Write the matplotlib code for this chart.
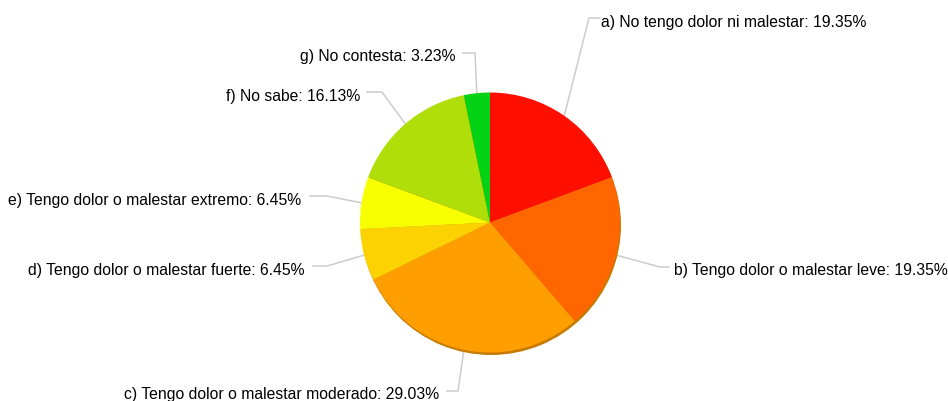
import matplotlib
matplotlib.use("Agg")
import matplotlib.pyplot as plt
import numpy as np

labels = ["a) No tengo dolor ni malestar", "b) Tengo dolor o malestar leve",
          "c) Tengo dolor o malestar moderado", "d) Tengo dolor o malestar fuerte",
          "e) Tengo dolor o malestar extremo", "f) No sabe", "g) No contesta"]
values = [19.35, 19.35, 29.03, 6.45, 6.45, 16.13, 3.23]
colors = ["#FF0F00", "#FF6600", "#FF9E01", "#FCD202", "#F8FF01", "#B0DE09", "#04D215"]

W, H = 948, 401
fig = plt.figure(figsize=(W / 100, H / 100), dpi=100)
ax = fig.add_axes([0, 0, 1, 1])

cx, cy, r = 490, H - 222.5, 130
# shadow
ax.pie([1], colors=["#C77A00"], radius=r, center=(cx + 1, cy - 2.5),
       wedgeprops=dict(linewidth=0), frame=True)
ax.pie(values, colors=colors, radius=r, center=(cx, cy), startangle=90,
       counterclock=False, wedgeprops=dict(linewidth=0), frame=True)
ax.set_xlim(0, W)
ax.set_ylim(0, H)
ax.set_aspect("equal")
ax.axis("off")

# label layout: (knee x, line y (px from top), line end x, text x, ha)
layout = [
    (589, 18, 600, 601, "left"),
    (660, 267, 669, 674, "left"),
    (458, 391, 447, 439, "right"),
    (327, 266, 313, 305, "right"),
    (327, 196, 310, 301, "right"),
    (382, 92, 367, 360, "right"),
    (475, 53, 463, 456, "right"),
]
cum = np.cumsum([0] + values[:-1])
tot = sum(values)
for lab, v, c0, (kx, ky, ex, tx, ha) in zip(labels, values, cum, layout):
    mid = (c0 + v / 2) / tot * 2 * np.pi
    sx = cx + r * np.sin(mid)
    sy = cy + r * np.cos(mid)
    ax.plot([sx, kx, ex], [sy, H - ky, H - ky], color="#CCCCCC", lw=1.1,
            solid_joinstyle="miter", zorder=0)
    ax.text(tx, H - ky - 4, f"{lab}: {v:.2f}%", ha=ha, va="center",
            fontsize=11.35, family="Liberation Sans", color="#000000")

fig.savefig("out.png", dpi=100)
